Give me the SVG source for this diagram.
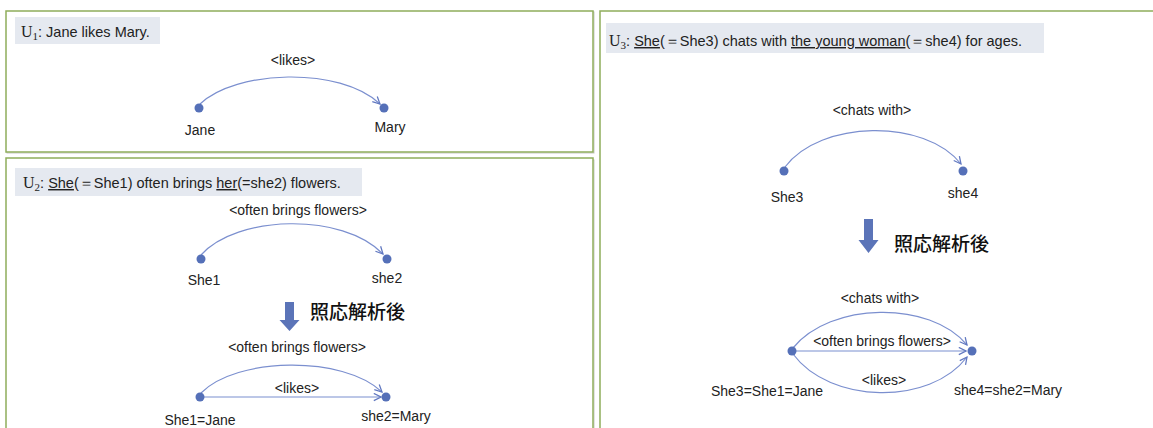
<svg xmlns="http://www.w3.org/2000/svg" width="1153" height="428" viewBox="0 0 1153 428">
<defs>
<style>
.panel{fill:#fff;stroke:#8fad5b;stroke-width:1.5}
.shadow{fill:none;stroke:#c8c8c8;stroke-width:1}
.hbox{fill:#e5e9f0}
.t{font-family:"Liberation Sans",Arial,sans-serif;font-size:14px;fill:#222}
.h{font-family:"Liberation Sans",Arial,sans-serif;font-size:14.5px;fill:#222}
.u{text-decoration:underline}
.serif{font-family:"Liberation Serif","Times New Roman",serif}
.cjk{font-family:"Noto Sans CJK JP","Noto Sans CJK SC",sans-serif;font-size:19px;font-weight:500;fill:#111}
.dot{fill:#5570b8}
.edge{fill:none;stroke:#7b8fcf;stroke-width:1.2;marker-end:url(#ah)}
.barrow{fill:#5b74b8}
</style>
<marker id="ah" viewBox="0 0 10 10" refX="9" refY="5" markerWidth="9" markerHeight="9" markerUnits="userSpaceOnUse" orient="auto">
<path d="M1,1 L9,5 L1,9" fill="none" stroke="#6178c0" stroke-width="1.4"/>
</marker>
</defs>
<rect width="1153" height="428" fill="#fff"/>

<g id="panel-u1">
<rect class="shadow" x="7" y="12" width="587" height="141"/>
<rect class="panel" x="6" y="11" width="587" height="141"/>
<rect class="hbox" x="15" y="17" width="145" height="27"/>
<text class="h" x="21" y="37"><tspan class="serif" font-size="16">U</tspan><tspan font-size="11" dy="3" class="serif">1</tspan><tspan dy="-3">: Jane likes Mary.</tspan></text>
</g>

<g id="panel-u2">
<rect class="shadow" x="7" y="160" width="587" height="280"/>
<rect class="panel" x="6" y="158" width="587" height="280"/>
<rect class="hbox" x="15" y="168" width="347" height="28"/>
<text class="h" x="23" y="188"><tspan class="serif" font-size="16">U</tspan><tspan font-size="11" dy="3" class="serif">2</tspan><tspan dy="-3">: </tspan><tspan class="u">She</tspan><tspan>(＝She1) often brings </tspan><tspan class="u">her</tspan><tspan>(=she2) flowers.</tspan></text>
</g>

<g id="panel-u3">
<rect class="shadow" x="601" y="12" width="560" height="430"/>
<rect class="panel" x="600" y="11" width="560" height="430"/>
<rect class="hbox" x="606" y="23" width="438" height="30"/>
<text class="h" x="609" y="46"><tspan class="serif" font-size="16">U</tspan><tspan font-size="11" dy="3" class="serif">3</tspan><tspan dy="-3">: </tspan><tspan class="u">She</tspan><tspan>(＝She3) chats with </tspan><tspan class="u">the young woman</tspan><tspan>(＝she4) for ages.</tspan></text>
</g>

<g id="connectors">
<path class="edge" d="M200,104 C235,70 340,66 380,104"/>
<path class="edge" d="M201,255 C236,215 343,212 383,254"/>
<path class="edge" d="M201,393 C236,357 343,355 382,392"/>
<path class="edge" d="M204,397 L381,397"/>
<path class="edge" d="M785,167 C820,120 925,118 961,164"/>
<path class="edge" d="M793,348 C830,302 930,300 967,345"/>
<path class="edge" d="M796,351 L966,351"/>
<path class="edge" d="M793,354 C830,404 930,406 967,357"/>
</g>

<g id="edge-labels">
<text class="t" x="293" y="65" text-anchor="middle">&lt;likes&gt;</text>
<text class="t" x="298" y="215" text-anchor="middle">&lt;often brings flowers&gt;</text>
<text class="t" x="297" y="352" text-anchor="middle">&lt;often brings flowers&gt;</text>
<text class="t" x="297" y="393" text-anchor="middle">&lt;likes&gt;</text>
<text class="t" x="872" y="115" text-anchor="middle">&lt;chats with&gt;</text>
<text class="t" x="880" y="303" text-anchor="middle">&lt;chats with&gt;</text>
<text class="t" x="882" y="346" text-anchor="middle">&lt;often brings flowers&gt;</text>
<text class="t" x="884" y="385" text-anchor="middle">&lt;likes&gt;</text>
</g>

<g id="resolve-u2">
<polygon class="barrow" points="285,302 294,302 294,320 299.5,320 289.5,331 279.5,320 285,320"/>
<text class="cjk" x="310" y="319">照応解析後</text>
</g>
<g id="resolve-u3">
<polygon class="barrow" points="864,219 873,219 873,240 878.5,240 868.5,253 858.5,240 864,240"/>
<text class="cjk" x="894" y="251">照応解析後</text>
</g>

<g id="node-jane"><circle class="dot" cx="199" cy="108" r="4.5"/><text class="t" x="200" y="135" text-anchor="middle">Jane</text></g>
<g id="node-mary"><circle class="dot" cx="384" cy="108" r="4.5"/><text class="t" x="390" y="132" text-anchor="middle">Mary</text></g>
<g id="node-she1"><circle class="dot" cx="201" cy="259" r="4.5"/><text class="t" x="204" y="285" text-anchor="middle">She1</text></g>
<g id="node-she2"><circle class="dot" cx="387" cy="259" r="4.5"/><text class="t" x="387" y="283" text-anchor="middle">she2</text></g>
<g id="node-she1-jane"><circle class="dot" cx="200" cy="397" r="4.5"/><text class="t" x="200" y="425" text-anchor="middle">She1=Jane</text></g>
<g id="node-she2-mary"><circle class="dot" cx="386" cy="397" r="4.5"/><text class="t" x="396" y="421" text-anchor="middle">she2=Mary</text></g>
<g id="node-she3"><circle class="dot" cx="784" cy="171" r="4.5"/><text class="t" x="787" y="202" text-anchor="middle">She3</text></g>
<g id="node-she4"><circle class="dot" cx="963" cy="171" r="4.5"/><text class="t" x="963" y="198" text-anchor="middle">she4</text></g>
<g id="node-she3-jane"><circle class="dot" cx="792" cy="351" r="4.5"/><text class="t" x="767" y="396" text-anchor="middle">She3=She1=Jane</text></g>
<g id="node-she4-mary"><circle class="dot" cx="972" cy="351" r="4.5"/><text class="t" x="1008" y="395" text-anchor="middle">she4=she2=Mary</text></g>
</svg>
